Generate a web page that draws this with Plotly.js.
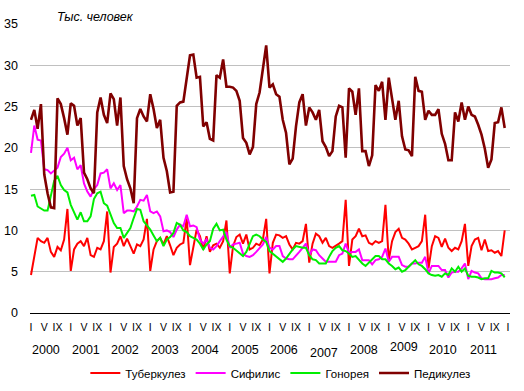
<!DOCTYPE html>
<html><head><meta charset="utf-8">
<script src="https://cdn.plot.ly/plotly-3.0.1.min.js"></script>
<style>html,body{margin:0;padding:0;background:#fff}#chart{width:524px;height:391px}</style>
</head><body><div id="chart"></div>
<script>
// Monthly values, Jan 2000 .. Dec 2011 (thousand persons)
const years = [2000,2001,2002,2003,2004,2005,2006,2007,2008,2009,2010,2011];
const monthTickNames = ['I','V','IX'];
const monthTickIdx = [0,4,8];

const tuberculosis = [
 4.6,6.8,9.1,8.7,8.5,9.1,7.4,6.8,8.0,7.6,8.9,12.6,
 5.1,7.7,8.4,8.7,8.1,9.1,7.0,6.8,7.9,7.7,8.7,12.3,
 4.9,8.0,8.4,9.3,8.1,9.0,8.1,7.2,8.3,8.1,8.9,11.4,
 5.1,7.7,8.7,9.1,8.3,9.3,8.2,7.0,7.9,8.3,8.5,11.5,
 5.8,8.1,10.1,9.3,7.7,9.3,7.4,8.2,8.4,7.9,8.7,11.2,
 4.8,8.1,9.2,9.5,8.4,9.5,7.7,7.9,8.4,8.2,8.9,11.4,
 4.8,8.5,9.5,9.4,9.1,9.3,8.3,7.7,8.5,8.4,8.7,10.8,
 6.1,8.4,9.6,9.3,8.5,9.1,8.1,7.9,8.1,8.4,8.7,13.7,
 5.7,8.9,9.3,10.2,9.3,9.4,8.5,8.3,8.7,8.5,8.7,13.1,
 6.4,8.7,9.8,10.2,9.1,8.9,8.4,7.7,7.9,8.1,8.7,11.9,
 5.4,8.1,9.3,9.1,8.0,9.0,7.9,7.5,7.9,7.7,8.7,10.8,
 5.7,8.1,8.9,9.1,7.6,8.9,7.5,7.6,7.3,7.5,6.9,10.0
];
const syphilis = [
 19.4,22.7,21.0,20.9,17.4,17.3,16.9,17.2,17.6,18.9,19.3,20.0,
 18.5,18.8,17.4,17.9,15.7,14.7,14.1,15.0,15.5,16.9,17.0,17.4,
 15.1,15.7,14.9,15.5,12.1,12.4,12.4,12.3,12.9,13.7,13.6,14.3,
 12.3,12.1,12.3,11.7,9.9,10.0,9.8,9.2,10.1,10.7,10.5,11.9,
 10.5,10.6,10.4,8.9,8.4,8.9,7.9,7.7,8.1,8.7,9.2,9.8,
 7.9,8.3,8.4,8.5,7.2,6.9,6.8,7.0,7.4,7.9,8.3,9.2,
 7.9,7.7,8.1,8.1,6.9,6.6,6.5,6.5,6.9,7.4,7.9,8.4,
 7.0,7.7,7.6,7.0,6.6,6.2,6.2,6.2,6.2,7.0,7.2,8.4,
 7.3,7.4,7.4,7.7,6.4,6.4,6.4,5.9,6.4,6.5,6.8,7.8,
 6.2,6.8,6.8,6.8,5.8,5.6,5.6,6.0,6.0,6.1,6.1,6.8,
 4.8,5.7,5.7,5.7,5.2,5.2,4.3,4.9,5.0,5.0,5.4,6.0,
 4.1,5.1,4.9,4.8,4.2,4.1,4.1,4.1,4.2,4.3,4.6,4.6
];
const gonorrhea = [
 14.2,14.3,12.9,12.6,12.4,12.4,14.1,16.0,16.6,15.5,14.9,14.6,
 13.1,12.3,11.3,12.2,11.1,11.1,11.7,13.8,14.5,14.7,13.3,13.0,
 11.9,10.9,10.3,10.3,9.1,9.7,10.3,11.5,12.6,12.5,11.1,10.6,
 10.1,9.4,8.7,9.1,8.1,8.9,9.2,9.7,10.9,10.7,10.0,9.8,
 9.3,9.1,8.9,8.4,7.7,8.3,8.7,10.2,10.8,10.0,10.1,8.9,
 8.1,7.9,7.6,7.2,6.9,7.4,8.4,9.3,9.5,9.3,8.9,8.6,
 7.5,7.2,6.9,6.6,6.2,6.6,7.2,7.7,8.1,8.0,7.9,7.9,
 7.0,6.5,6.4,6.0,6.0,6.0,6.8,7.5,7.9,8.1,7.6,7.5,
 7.2,6.8,6.9,6.4,6.0,5.7,6.1,6.4,6.9,6.9,6.5,6.5,
 6.0,5.7,5.3,5.5,5.0,5.2,5.6,6.0,6.4,5.9,5.7,5.3,
 4.8,4.6,4.5,4.6,4.4,4.8,4.6,5.4,5.0,5.6,5.0,5.4,
 4.5,4.4,4.4,4.3,4.1,4.2,4.2,5.1,4.9,4.9,4.8,4.3
];
const pediculosis = [
 23.4,24.6,22.3,25.3,16.8,14.5,12.8,12.7,26.0,25.3,23.6,21.6,
 25.4,25.1,22.7,23.6,17.0,16.2,15.1,14.5,24.3,26.1,24.0,23.0,
 26.6,25.9,22.7,26.1,17.8,16.2,15.1,13.3,23.6,24.7,23.8,23.2,
 26.5,24.7,22.4,23.4,18.8,17.2,14.6,14.7,25.1,25.5,25.6,28.3,
 31.2,31.3,28.5,28.6,22.6,23.1,21.1,20.9,28.8,28.5,30.7,27.4,
 27.4,27.3,26.9,25.7,21.2,20.6,19.2,20.1,25.3,26.7,29.9,32.4,
 27.3,27.7,26.5,26.2,23.4,21.8,18.0,18.7,22.6,25.5,26.5,22.7,
 24.9,24.3,23.4,24.6,20.8,20.1,19.0,19.6,23.8,25.1,24.9,18.8,
 27.2,26.8,24.0,27.2,19.6,19.6,17.8,19.1,27.6,26.9,28.0,23.4,
 28.5,25.7,23.4,25.7,21.4,19.8,19.7,19.0,28.6,26.9,26.8,23.4,
 24.5,24.0,24.0,24.7,21.7,20.5,18.5,18.5,24.3,23.2,25.5,23.4,
 25.0,24.0,23.8,22.8,21.6,19.9,17.6,18.6,23.0,23.1,24.9,22.4
];
const seriesNames = ['Туберкулез','Сифилис','Гонорея','Педикулез'];
const seriesColors = ['#ff0000','#ff00ff','#00ee00','#800000'];
const seriesWidths = [2,2,2,2.6];
const seriesData = [tuberculosis, syphilis, gonorrhea, pediculosis];

const xIdx = tuberculosis.map((_, i) => i);
const font = 'Liberation Sans, Arial, sans-serif';

const traces = seriesData.map((d, k) => ({
  x: xIdx, y: d, type: 'scatter', mode: 'lines', name: seriesNames[k],
  line: {color: seriesColors[k], width: seriesWidths[k]}, hoverinfo: 'skip'
}));

const tickvals = [], ticktext = [];
years.forEach((yr, k) => {
  monthTickIdx.forEach((m, j) => { tickvals.push(k*12 + m); ticktext.push(monthTickNames[j]); });
});
tickvals.push(years.length*12); ticktext.push('I');

const annotations = years.map((yr, k) => ({
  x: k*12 + 4.5, xref: 'x', y: -0.128, yref: 'paper', text: String(yr), showarrow: false,
  xanchor: 'center', yanchor: 'middle', font: {family: font, size: 12.5, color: '#000'},
  yshift: yr === 2007 ? -3 : (yr === 2009 ? 3 : 0)
}));
annotations.push({
  x: 0.052, xref: 'paper', y: 1.024, yref: 'paper', text: '<i>Тыс. человек</i>', showarrow: false,
  xanchor: 'left', yanchor: 'middle', font: {family: font, size: 12.5, color: '#000'}
});

const layout = {
  width: 524, height: 391,
  margin: {l: 30, r: 14, t: 24, b: 78, pad: 0, autoexpand: false},
  paper_bgcolor: '#fff', plot_bgcolor: '#fff',
  font: {family: font, color: '#000'},
  showlegend: true,
  legend: {orientation: 'h', x: 0.535, xanchor: 'center', xref: 'container',
           y: 0.083, yanchor: 'top', yref: 'container',
           font: {family: font, size: 11.5, color: '#000'}, itemwidth: 30, bgcolor: 'rgba(0,0,0,0)'},
  xaxis: {range: [-0.3, 144.6], tickmode: 'array', tickvals: tickvals, ticktext: ticktext,
          showgrid: false, zeroline: false, showline: true, linecolor: '#000', linewidth: 1.3,
          ticks: '', ticklabelstandoff: 4, tickangle: 0, automargin: false,
          tickfont: {family: font, size: 10.5, color: '#000'}, fixedrange: true},
  yaxis: {range: [0, 35], tickmode: 'linear', tick0: 0, dtick: 5, showgrid: true,
          gridcolor: '#c0c0c0', gridwidth: 1, zeroline: false, showline: false, ticks: '',
          ticklabelstandoff: 11, automargin: false,
          tickfont: {family: font, size: 12.5, color: '#000'}, fixedrange: true},
  annotations: annotations
};
Plotly.newPlot('chart', traces, layout, {displayModeBar: false, staticPlot: true});
</script></body></html>
